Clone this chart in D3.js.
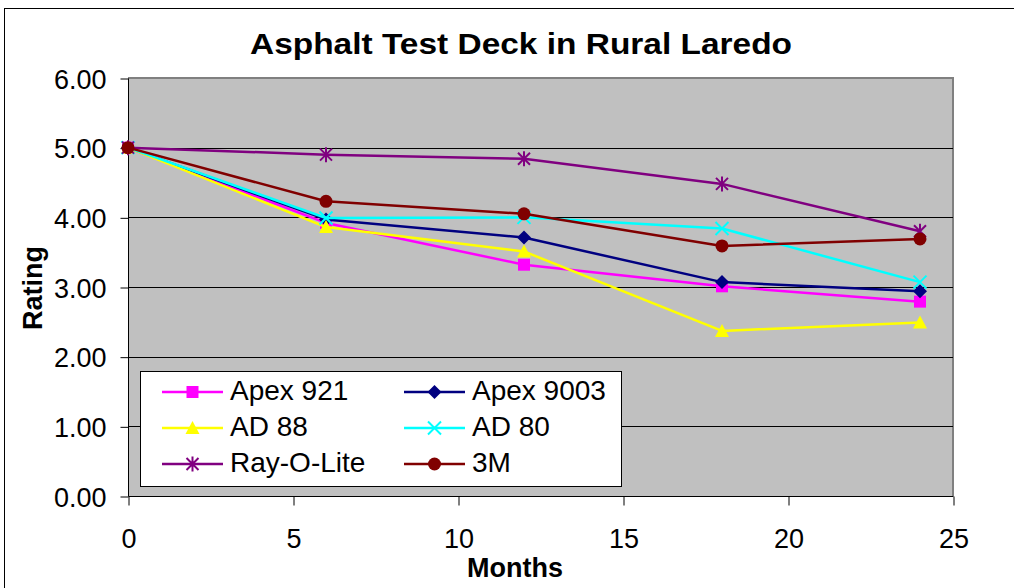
<!DOCTYPE html>
<html>
<head>
<meta charset="utf-8">
<script src="https://cdn.jsdelivr.net/npm/d3@7"></script>
<style>
  html, body { margin: 0; padding: 0; background: #fff; }
  svg { display: block; }
  text { font-family: "Liberation Sans", Arial, sans-serif; fill: #000; }
</style>
</head>
<body>
<script>
// Months since installation and ratings per marking material
const months = [0, 6, 12, 18, 24];
const seriesNames = ["Apex 921", "Apex 9003", "AD 88", "AD 80", "Ray-O-Lite", "3M"];
const apex921  = [5.00, 3.92, 3.32, 3.01, 2.79];
const apex9003 = [5.00, 3.97, 3.71, 3.07, 2.94];
const ad88     = [5.00, 3.86, 3.51, 2.37, 2.49];
const ad80     = [5.00, 3.99, 4.00, 3.84, 3.07];
const rayOLite = [5.00, 4.90, 4.84, 4.48, 3.80];
const m3       = [5.00, 4.23, 4.05, 3.59, 3.69];
const xTicks = [0, 5, 10, 15, 20, 25];
const yTicks = [0, 1, 2, 3, 4, 5, 6];

const W = 1014, H = 588;
const svg = d3.select("body").append("svg").attr("width", W).attr("height", H);

// chart frame
svg.append("rect").attr("x", 4.5).attr("y", 8.5).attr("width", W + 20).attr("height", H + 20)
  .attr("fill", "#fff").attr("stroke", "#000").attr("stroke-width", 1);

const x = d3.scaleLinear().domain([0, 25]).range([128, 953]);
const y = d3.scaleLinear().domain([0, 6]).range([496, 78]);

// plot area
svg.append("rect").attr("x", x(0)).attr("y", y(6)).attr("width", x(25) - x(0)).attr("height", y(0) - y(6))
  .attr("fill", "#C0C0C0");
svg.append("path")
  .attr("d", `M${x(0)},${y(6)}H${x(25)}V${y(0)}`)
  .attr("fill", "none").attr("stroke", "#808080").attr("stroke-width", 2);

// gridlines
svg.append("g").selectAll("line").data(yTicks.filter(v => v > 0 && v < 6)).join("line")
  .attr("x1", x(0)).attr("x2", x(25))
  .attr("y1", d => Math.round(y(d)) + 0.5).attr("y2", d => Math.round(y(d)) + 0.5)
  .attr("stroke", "#000").attr("stroke-width", 1);

// axes
const yAxis = d3.axisLeft(y).tickValues(yTicks).tickFormat(d3.format(".2f")).tickSize(8).tickPadding(14);
const gy = svg.append("g").attr("transform", `translate(${x(0) + 0.5},0.5)`).call(yAxis);
gy.select(".domain").attr("stroke", "#000").attr("d", `M0,${y(6)}V${y(0)}`);
gy.selectAll(".tick line").attr("stroke", "#000");
gy.selectAll(".tick text").attr("font-size", 27).attr("font-family", "Liberation Sans, Arial, sans-serif")
  .attr("dy", "0.36em").attr("fill", "#000");

const xAxis = d3.axisBottom(x).tickValues(xTicks).tickFormat(d3.format("d")).tickSize(9).tickPadding(14);
const gx = svg.append("g").attr("transform", `translate(0.5,${Math.round(y(0)) + 0.5})`).call(xAxis);
gx.select(".domain").attr("stroke", "#000").attr("d", `M${x(0)},0H${x(25)}`);
gx.selectAll(".tick line").attr("stroke", "#000");
gx.selectAll(".tick text").attr("font-size", 27).attr("font-family", "Liberation Sans, Arial, sans-serif")
  .attr("y", 51).attr("dy", 0).attr("fill", "#000");

// titles
svg.append("text").attr("x", 521).attr("y", 54).attr("text-anchor", "middle")
  .attr("font-size", 30).attr("font-weight", "bold")
  .attr("textLength", 542).attr("lengthAdjust", "spacingAndGlyphs")
  .text("Asphalt Test Deck in Rural Laredo");
svg.append("text").attr("x", 515).attr("y", 577).attr("text-anchor", "middle")
  .attr("font-size", 27).attr("font-weight", "bold").text("Months");
svg.append("text").attr("transform", "translate(42,288) rotate(-90)").attr("text-anchor", "middle")
  .attr("font-size", 27).attr("font-weight", "bold").text("Rating");

// marker shapes
function markerPath(kind) {
  switch (kind) {
    case "square": return "M-6,-6H6V6H-6Z";
    case "diamond": return "M0,-7L7,0L0,7L-7,0Z";
    case "triangle": return "M0,-7L7,6L-7,6Z";
    case "x": return "M-6.5,-6.5L6.5,6.5M6.5,-6.5L-6.5,6.5";
    case "star": return "M-6,-6L6,6M6,-6L-6,6M0,-7.5V7.5";
  }
  return "";
}

const series = [
  { name: seriesNames[0], values: apex921,  color: "#FF00FF", marker: "square" },
  { name: seriesNames[1], values: apex9003, color: "#000080", marker: "diamond" },
  { name: seriesNames[2], values: ad88,     color: "#FFFF00", marker: "triangle" },
  { name: seriesNames[3], values: ad80,     color: "#00FFFF", marker: "x" },
  { name: seriesNames[4], values: rayOLite, color: "#800080", marker: "star" },
  { name: seriesNames[5], values: m3,       color: "#800000", marker: "circle" }
];

function drawMarker(g, s) {
  if (s.marker === "circle") {
    g.append("circle").attr("r", 6.5).attr("fill", s.color);
  } else if (s.marker === "x" || s.marker === "star") {
    g.append("path").attr("d", markerPath(s.marker)).attr("fill", "none")
      .attr("stroke", s.color).attr("stroke-width", 2);
  } else {
    g.append("path").attr("d", markerPath(s.marker)).attr("fill", s.color);
  }
}

const line = d3.line().x((d, i) => x(months[i])).y(d => y(d));
const plot = svg.append("g");
series.forEach(s => {
  const g = plot.append("g");
  g.append("path").attr("d", line(s.values)).attr("fill", "none")
    .attr("stroke", s.color).attr("stroke-width", 2.5).attr("stroke-linejoin", "round");
  s.values.forEach((v, i) => {
    const m = g.append("g").attr("transform", `translate(${x(months[i])},${y(v)})`);
    drawMarker(m, s);
  });
});

// legend
const legend = svg.append("g");
legend.append("rect").attr("x", 140.5).attr("y", 371.5).attr("width", 481).attr("height", 115)
  .attr("fill", "#fff").attr("stroke", "#000").attr("stroke-width", 1);
series.forEach((s, i) => {
  const col = i % 2, row = Math.floor(i / 2);
  const lx = col === 0 ? 162 : 404;
  const ly = 392 + row * 36;
  const g = legend.append("g");
  g.append("line").attr("x1", lx).attr("x2", lx + 61).attr("y1", ly).attr("y2", ly)
    .attr("stroke", s.color).attr("stroke-width", 2.5);
  const m = g.append("g").attr("transform", `translate(${lx + 30.5},${ly})`);
  drawMarker(m, s);
  g.append("text").attr("x", lx + 68).attr("y", ly + 8).attr("font-size", 28).text(s.name);
});
</script>
</body>
</html>
